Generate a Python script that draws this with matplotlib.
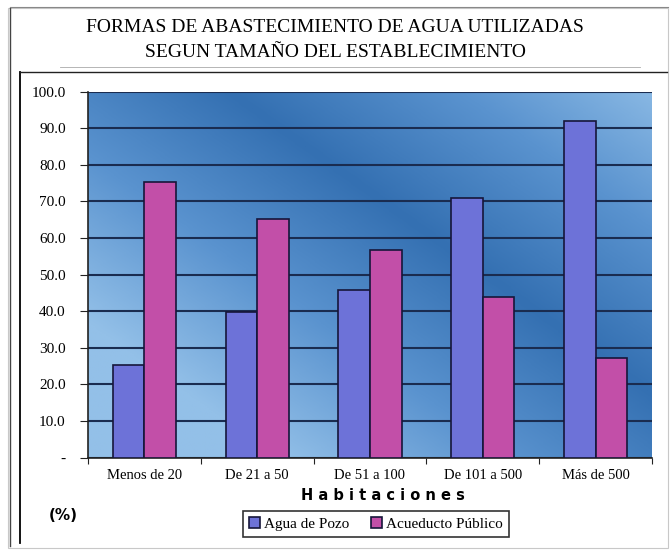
import numpy as np
import matplotlib.pyplot as plt
from matplotlib.colors import LinearSegmentedColormap
from matplotlib.patches import Rectangle
from matplotlib.lines import Line2D

# Datos (%)
categorias = ['Menos de 20', 'De 21 a 50', 'De 51 a 100', 'De 101 a 500', 'Más de 500']
agua_pozo = [25.2, 39.8, 45.8, 70.9, 91.9]
acueducto = [75.2, 65.3, 56.6, 43.8, 27.3]
yticks = [0, 10, 20, 30, 40, 50, 60, 70, 80, 90, 100]
ytick_labels = ['-'] + ['%.1f' % v for v in yticks[1:]]

plt.rcParams['font.family'] = ['Liberation Serif', 'DejaVu Serif']

W, H = 670, 551
fig = plt.figure(figsize=(6.7, 5.51), dpi=100)
fig.patch.set_facecolor('white')


def fx(px):
    return px / W


def fy(py):
    return 1 - py / H


# Marcos (en pixeles de la figura)
fig.patches.append(Rectangle((fx(8), fy(548)), fx(660), 540 / H, transform=fig.transFigure,
                             fill=False, edgecolor='#c8c8c8', lw=0.8))
fig.lines.append(Line2D([fx(20), fx(20)], [fy(543), fy(72)], transform=fig.transFigure, color='black', lw=1.3))
fig.lines.append(Line2D([fx(20), fx(667)], [fy(72), fy(72)], transform=fig.transFigure, color='#222222', lw=1.0))
fig.lines.append(Line2D([fx(60), fx(640)], [fy(67), fy(67)], transform=fig.transFigure, color='#aaaaaa', lw=0.6))
fig.lines.append(Line2D([fx(10), fx(10)], [fy(546), fy(8)], transform=fig.transFigure, color='#444444', lw=1.0))
fig.lines.append(Line2D([fx(10), fx(668)], [fy(7), fy(7)], transform=fig.transFigure, color='#888888', lw=0.8))

fig.text(fx(335), fy(27), 'FORMAS DE ABASTECIMIENTO DE AGUA UTILIZADAS', ha='center', va='center',
         fontsize=14)
fig.text(fx(335), fy(53), 'SEGUN TAMAÑO DEL ESTABLECIMIENTO', ha='center', va='center', fontsize=14)

ax = fig.add_axes([fx(88), fy(457.5), 564 / W, 365.8 / H])

# Fondo degradado azul: oscuro en diagonal, claro en las esquinas
u, v = np.meshgrid(np.linspace(0, 1, 300), np.linspace(1, 0, 300))
d = ((1 - v) - 1.1 * (u - 0.25))
fondo = np.clip(np.abs(d) * 1.1, 0, 1)
cmap_fondo = LinearSegmentedColormap.from_list('fondo', ['#3470b2', '#5a93cf', '#93c0e8'])
ax.imshow(fondo, extent=[-0.5, 4.5, 0, 100], aspect='auto', cmap=cmap_fondo, vmin=0, vmax=1, zorder=0)

x = np.arange(len(categorias))
w = 0.28
ax.bar(x - 0.14, agua_pozo, w, color='#6d72d8', edgecolor='#16163a', lw=1.2, zorder=3, label='Agua de Pozo')
ax.bar(x + 0.14, acueducto, w, color='#c24fa8', edgecolor='#16163a', lw=1.2, zorder=3, label='Acueducto Público')

ax.set_xlim(-0.5, 4.5)
ax.set_ylim(0, 100)
ax.set_yticks(yticks)
ax.set_yticklabels(ytick_labels, fontsize=11)
ax.yaxis.grid(True, color='#1a2c50', lw=1.5, zorder=1)
ax.set_xticks(np.arange(-0.5, 5, 1))
ax.set_xticklabels([])
ax.set_xticks(x, minor=True)
ax.set_xticklabels(categorias, minor=True, fontsize=10.5)
ax.tick_params(axis='x', which='minor', length=0, pad=8)
ax.tick_params(axis='x', which='major', length=4, direction='out', color='#222222')
ax.tick_params(axis='y', length=6, direction='out', pad=10, color='#222222')
for s in ['top', 'right']:
    ax.spines[s].set_visible(False)
ax.spines['left'].set_color('#222222')
ax.spines['bottom'].set_color('#222222')
ax.spines['left'].set_linewidth(1.2)
ax.spines['bottom'].set_linewidth(1.2)

fig.text(fx(383), fy(496), 'H a b i t a c i o n e s', ha='center', va='center', fontsize=10.5,
         fontweight='bold', family='DejaVu Sans')
fig.text(fx(63), fy(516), '(%)', ha='center', va='center', fontsize=11, fontweight='bold',
         family='DejaVu Sans')

leg = fig.legend(loc='center', bbox_to_anchor=(fx(376), fy(524)), ncol=2, fontsize=11,
                 frameon=True, fancybox=False, edgecolor='black', handlelength=0.7, handleheight=0.7,
                 handletextpad=0.3, columnspacing=1.4, borderpad=0.4)
leg.get_frame().set_linewidth(1.2)

fig.savefig('out.png', dpi=100)
